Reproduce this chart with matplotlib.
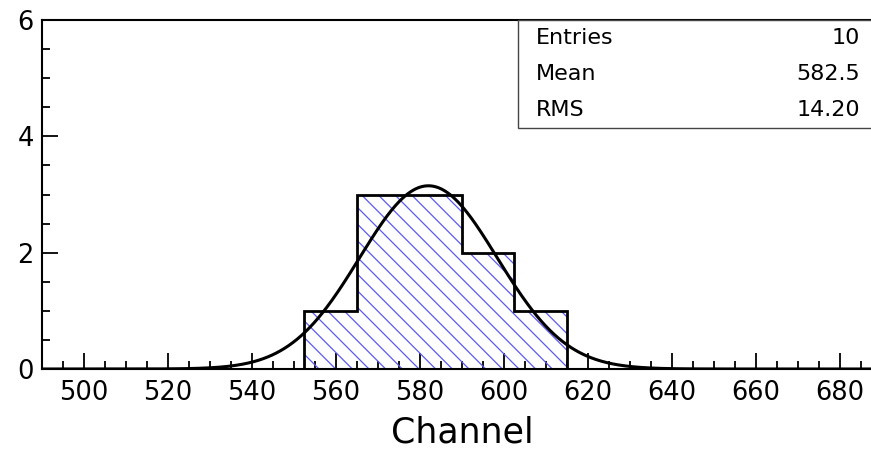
import numpy as np
from matplotlib import pyplot as plt
from matplotlib.patches import Rectangle
import matplotlib.ticker as ticker


# %% --------------- DATA                                          ---------------------------------------------------- #
bin_edges = [552.5, 565.0, 577.5, 590.0, 602.5, 615.0]
bin_counts = [1, 3, 3, 2, 1]

# gaussian fit drawn on top of the histogram
fit_amp = 3.15
fit_mean = 582.0
fit_sigma = 16.4

x_range = (490, 690)
y_range = (0, 6)

# stats box (computed from the bins, like ROOT does)
centers = 0.5 * (np.array(bin_edges[:-1]) + np.array(bin_edges[1:]))
counts = np.array(bin_counts, dtype=float)
n_entries = int(counts.sum())
mean = np.sum(centers * counts) / counts.sum()
rms = np.sqrt(np.sum(counts * (centers - mean) ** 2) / counts.sum())
stat_names = ["Entries", "Mean", "RMS"]
stat_values = ["%d" % n_entries, "%.1f" % mean, "%.2f" % rms]


# %% --------------- PLOT                                          ---------------------------------------------------- #
plt.rcParams['hatch.linewidth'] = 0.9

fig = plt.figure(figsize=(8.71, 4.54), dpi=100)
ax = fig.add_axes([42 / 871, 85 / 454, 840 / 871, 349 / 454])

ax.stairs(bin_counts, bin_edges, baseline=0, fill=True, facecolor="none",
          edgecolor="#5a5af0", linewidth=0, hatch="\\\\", zorder=2)
ax.stairs(bin_counts, bin_edges, baseline=0, fill=False, color="black", linewidth=2.0, zorder=3)

x_fit = np.linspace(x_range[0], x_range[1], 600)
y_fit = fit_amp * np.exp(-0.5 * ((x_fit - fit_mean) / fit_sigma) ** 2)
ax.plot(x_fit, y_fit, color="black", linewidth=2.2, zorder=4)

ax.set_xlim(*x_range)
ax.set_ylim(*y_range)

ax.xaxis.set_major_locator(ticker.MultipleLocator(20))
ax.xaxis.set_minor_locator(ticker.MultipleLocator(5))
ax.yaxis.set_major_locator(ticker.MultipleLocator(2))
ax.yaxis.set_minor_locator(ticker.MultipleLocator(0.5))

ax.tick_params(which="both", direction="in", top=False, right=False, width=1.3, labelsize=18.5)
ax.tick_params(which="major", length=11.5)
ax.tick_params(which="minor", length=5.8)
ax.tick_params(axis="x", pad=8)
ax.tick_params(axis="y", pad=6)

for side in ["left", "bottom", "top"]:
    ax.spines[side].set_linewidth(1.5)
ax.spines["right"].set_visible(False)

ax.set_xlabel("Channel", fontsize=25, labelpad=7)

# stats box in the top right corner
box = Rectangle((518 / 871, 1 - 128 / 454), 1.0, 108 / 454, transform=fig.transFigure,
                facecolor="white", edgecolor="#444444", linewidth=1.0, zorder=5)
fig.patches.append(box)
for i, (name, value) in enumerate(zip(stat_names, stat_values)):
    y = 1 - (38 + 36 * i) / 454
    fig.text(536 / 871, y, name, fontsize=16, ha="left", va="center", zorder=6)
    fig.text(860 / 871, y, value, fontsize=16, ha="right", va="center", zorder=6)

fig.savefig("out.png", dpi=100)
